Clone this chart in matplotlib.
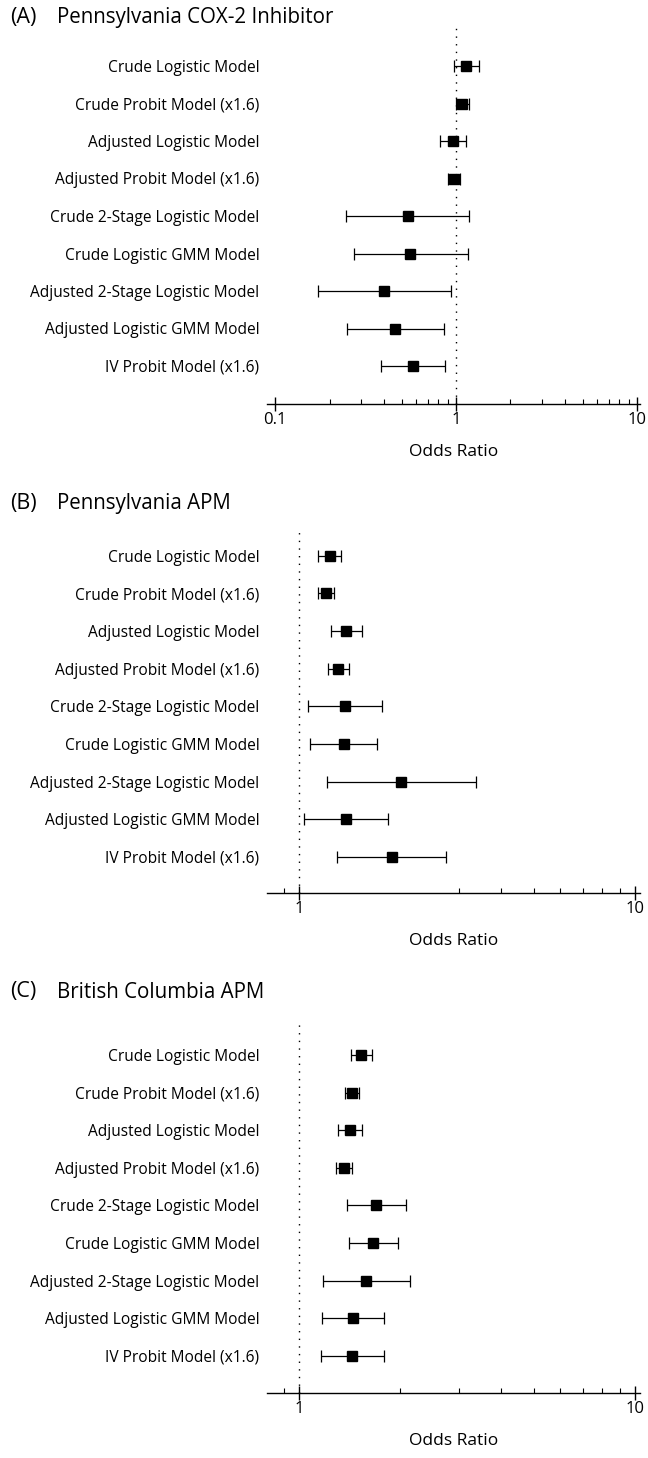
import numpy as np
import matplotlib
matplotlib.use("Agg")
import matplotlib.pyplot as plt
from matplotlib.ticker import FixedLocator, NullFormatter

plt.rcParams['font.family'] = ['Open Sans', 'DejaVu Sans']

models = ["Crude Logistic Model", "Crude Probit Model (x1.6)", "Adjusted Logistic Model",
          "Adjusted Probit Model (x1.6)", "Crude 2-Stage Logistic Model", "Crude Logistic GMM Model",
          "Adjusted 2-Stage Logistic Model", "Adjusted Logistic GMM Model", "IV Probit Model (x1.6)"]

# (A) Pennsylvania COX-2 Inhibitor
a_or = [1.136, 1.083, 0.962, 0.98, 0.54, 0.559, 0.402, 0.462, 0.578]
a_lo = [0.97, 1.0, 0.816, 0.906, 0.248, 0.274, 0.173, 0.249, 0.386]
a_hi = [1.333, 1.174, 1.136, 1.057, 1.18, 1.16, 0.934, 0.854, 0.865]

# (B) Pennsylvania APM
b_or = [1.234, 1.203, 1.38, 1.309, 1.371, 1.359, 2.012, 1.38, 1.887]
b_lo = [1.139, 1.139, 1.245, 1.22, 1.066, 1.08, 1.212, 1.033, 1.298]
b_hi = [1.334, 1.271, 1.537, 1.409, 1.766, 1.706, 3.357, 1.843, 2.744]

# (C) British Columbia APM
c_or = [1.533, 1.435, 1.418, 1.359, 1.695, 1.664, 1.583, 1.451, 1.441]
c_lo = [1.428, 1.371, 1.304, 1.289, 1.392, 1.406, 1.176, 1.173, 1.16]
c_hi = [1.653, 1.505, 1.543, 1.435, 2.077, 1.971, 2.14, 1.795, 1.788]

W, H = 648, 1458
fig = plt.figure(figsize=(W / 100, H / 100), dpi=100)

def px_axes(left, top, right, bottom):
    return fig.add_axes([left / W, 1 - bottom / H, (right - left) / W, (bottom - top) / H])

panels = [
    ("(A)", "Pennsylvania COX-2 Inhibitor", a_or, a_lo, a_hi, 18, 24, 404, 66, 37.5,
     (0.0903, 10.39), [0.1, 1, 10], ["0.1", "1", "10"],
     [0.2, 0.3, 0.4, 0.5, 0.6, 0.7, 0.8, 0.9, 2, 3, 4, 5, 6, 7, 8, 9]),
    ("(B)", "Pennsylvania APM", b_or, b_lo, b_hi, 503, 532, 893, 555.7, 37.66,
     (0.803, 10.35), [1, 10], ["1", "10"], [0.9, 3, 4, 5, 6, 7, 8, 9]),
    ("(C)", "British Columbia APM", c_or, c_lo, c_hi, 992, 1020, 1393, 1055, 37.6,
     (0.803, 10.35), [1, 10], ["1", "10"], [0.9, 2, 3, 4, 5, 6, 7, 8, 9]),
]

for tag, title, orv, lo, hi, ty, top, bottom, row0, step, xlim, major, majlab, minor in panels:
    ax = px_axes(267, top, 640, bottom)
    y = np.arange(len(models))
    orv, lo, hi = np.array(orv), np.array(lo), np.array(hi)
    ax.axvline(1, color="black", lw=1, linestyle=(0, (1, 4.5)), zorder=1)
    ax.errorbar(orv, y, xerr=[orv - lo, hi - orv], fmt="s", color="black", ms=7,
                ecolor="black", elinewidth=0.9, capsize=4.5, capthick=0.9, zorder=3)
    ax.set_xscale("log")
    ax.set_xlim(*xlim)
    ax.set_ylim((bottom - row0) / step, (top - row0) / step)
    ax.set_yticks(y)
    ax.set_yticklabels(models, fontsize=11.2)
    ax.tick_params(axis="y", length=0, pad=5.5)
    ax.xaxis.set_major_locator(FixedLocator(major))
    ax.set_xticklabels(majlab, fontsize=12)
    ax.xaxis.set_minor_locator(FixedLocator(minor))
    ax.xaxis.set_minor_formatter(NullFormatter())
    ax.tick_params(axis="x", which="major", direction="inout", length=10, width=1, pad=1)
    ax.tick_params(axis="x", which="minor", direction="in", length=3.5, width=0.8)
    for s in ["top", "right", "left"]:
        ax.spines[s].set_visible(False)
    ax.spines["bottom"].set_linewidth(1)
    ax.set_xlabel("Odds Ratio", fontsize=12.5, labelpad=11)
    fig.text(10 / W, 1 - ty / H, tag, fontsize=15.5, va="center", ha="left")
    fig.text(57 / W, 1 - ty / H, title, fontsize=14.8, va="center", ha="left")

fig.savefig("out.png", dpi=100)
